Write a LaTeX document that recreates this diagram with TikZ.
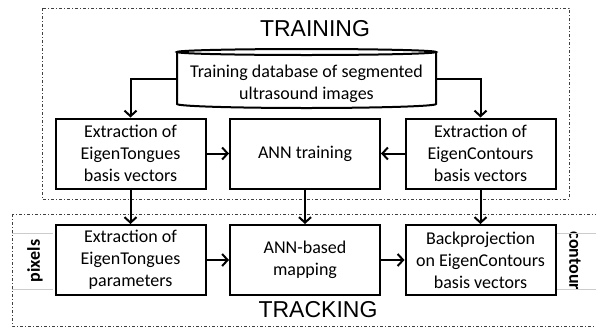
\documentclass[tikz,border=0pt]{standalone}
\usepackage{fontspec}
\setmainfont{Carlito}
\newfontfamily\arialf{Liberation Sans}
\usetikzlibrary{arrows.meta}
\begin{document}
\begin{tikzpicture}[x=1pt,y=-1pt,
  box/.style={draw, line width=2pt, minimum width=150pt, minimum height=70pt, align=center, font=\fontsize{18}{22}\selectfont, inner sep=0pt},
  arr/.style={line width=2pt, -{Straight Barb[length=5.5pt,width=12pt,line width=2pt]}},
  region/.style={line width=0.8pt, black!75, dash pattern=on 3pt off 2pt on 1pt off 2pt},
  title/.style={font=\arialf\fontsize{23}{26}\selectfont},
  side/.style={font=\bfseries\fontsize{18}{20}\selectfont},
  sep/.style={draw=black!20, line width=0.6pt},
  cyl/.style={line width=2pt}]
\useasboundingbox (0,0) rectangle (596,327);
% regions
\draw[region] (42,8) rectangle (569,199);
\draw[region] (12,214) rectangle (605,326);
% titles
\node[title] (trn) at (315,28.5) {TRAINING};
\node[title] (trk) at (318,309.5) {TRACKING};
% database
\node[font=\fontsize{18}{22}\selectfont, align=center, minimum width=259pt, minimum height=53pt, inner sep=0pt] (db) at (306.5,84) {Training database of segmented\\ultrasound images};
\draw[cyl] (306.5,52) ellipse [x radius=129.5pt, y radius=3pt];
\draw[cyl] (177,52) -- (177,104) arc[start angle=180, end angle=360, x radius=129.5pt, y radius=4pt] -- (436,52);
% boxes
\node[box] (e1) at (130.5,153.5) {Extraction of\\EigenTongues\\basis vectors};
\node[box] (ann) at (305,153.5) {ANN training};
\node[box] (e2) at (480.5,153.5) {Extraction of\\EigenContours\\basis vectors};
\node[box] (p1) at (130.5,260) {Extraction of\\EigenTongues\\parameters};
\node[box] (map) at (305,260) {ANN-based\\mapping};
\node[box] (bp) at (480.5,260) {Backprojection\\on EigenContours\\basis vectors};
% side labels
\node[side, rotate=90] (px) at (35,261) {pixels};
\draw[sep] (12,233) -- (53,233) (12,289) -- (53,289);
\node[side, rotate=-90] (ct) at (575,261) {contour};
\draw[sep] (557,233) -- (596,233) (557,289) -- (596,289);
% arrows
\draw[arr] ([yshift=5pt]db.west) -| (e1.north);
\draw[arr] ([yshift=5pt]db.east) -| (e2.north);
\draw[arr] (e1.east) -- (ann.west);
\draw[arr] (e2.west) -- (ann.east);
\draw[arr] (e1.south) -- (p1.north);
\draw[arr] (ann.south) -- (map.north);
\draw[arr] (e2.south) -- (bp.north);
\draw[arr] (p1.east) -- (map.west);
\draw[arr] (map.east) -- (bp.west);
\end{tikzpicture}
\end{document}
